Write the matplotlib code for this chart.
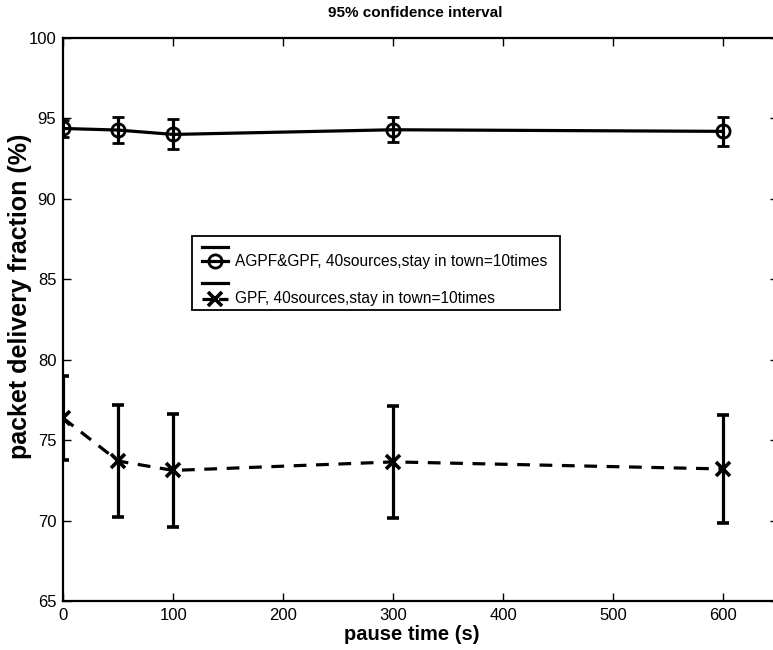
import matplotlib
matplotlib.use("Agg")
import matplotlib.pyplot as plt
from matplotlib.lines import Line2D
from matplotlib.patches import Rectangle

plt.rcParams['font.family'] = ['Liberation Sans', 'DejaVu Sans']

# pause times (s)
pause_time = [0, 50, 100, 300, 600]

# AGPF&GPF: mean delivery fraction and 95% CI half-width
agpf_mean = [94.35, 94.25, 93.98, 94.27, 94.17]
agpf_err = [0.55, 0.80, 0.93, 0.78, 0.90]

# GPF: mean delivery fraction and 95% CI half-width
gpf_mean = [76.35, 73.69, 73.11, 73.64, 73.20]
gpf_err = [2.60, 3.48, 3.49, 3.47, 3.38]

label_agpf = "AGPF&GPF, 40sources,stay in town=10times"
label_gpf = "GPF, 40sources,stay in town=10times"

W, H = 773, 650
fig = plt.figure(figsize=(W / 100, H / 100), dpi=100)
ax_top, ax_bot = 37.5, 601.0
ax = fig.add_axes([63.3 / W, (H - ax_bot) / H, 715 / W, (ax_bot - ax_top) / H])

lw = 2.3
ax.errorbar(pause_time, agpf_mean, yerr=agpf_err, color='black', lw=lw,
            marker='o', ms=9.5, mfc='none', mec='black', mew=2.0,
            capsize=4.5, capthick=lw, elinewidth=lw)
gl = ax.errorbar(pause_time, gpf_mean, yerr=gpf_err, color='black', lw=lw,
                 ls='--', marker='x', ms=10, mew=2.6,
                 capsize=4.5, capthick=lw, elinewidth=lw)
gl[0].set_dashes((4, 3))

ax.set_xlim(0, 650)
ax.set_ylim(65, 100)
ax.set_xticks([0, 100, 200, 300, 400, 500, 600])
ax.set_yticks([65, 70, 75, 80, 85, 90, 95, 100])
ax.tick_params(direction='in', length=6, width=1.0, labelsize=12,
               top=True, right=True)
ax.tick_params(axis='x', pad=5)
ax.tick_params(axis='y', pad=5)
for s in ax.spines.values():
    s.set_linewidth(1.6)


def fx(px):
    return px / W


def fy(py):
    return 1 - py / H


fig.text(fx(415), fy(13), "95% confidence interval", ha='center',
         va='center', fontsize=11, fontweight='bold')
fig.text(fx(412), fy(635), "pause time (s)", ha='center', va='center',
         fontsize=14.5, fontweight='bold')
fig.text(fx(20), fy(296), "packet delivery fraction (%)", ha='center',
         va='center', rotation=90, fontsize=18, fontweight='bold')

# legend box drawn in figure pixels
box = Rectangle((fx(192.3), fy(309.7)), fx(560) - fx(192.3),
                fy(236.3) - fy(309.7), transform=fig.transFigure,
                facecolor='white', edgecolor='black', lw=1.3, zorder=5)
fig.add_artist(box)

x0, x1, xm = 201.7, 227.7, 214.7
rows = [247.3, 261.3, 283.0, 298.7]
fig.add_artist(Line2D([fx(x0), fx(x1)], [fy(rows[0])] * 2, color='black',
                      lw=lw, transform=fig.transFigure, zorder=6))
fig.add_artist(Line2D([fx(x0), fx(x1)], [fy(rows[1])] * 2, color='black',
                      lw=lw, transform=fig.transFigure, zorder=6))
fig.add_artist(Line2D([fx(xm)], [fy(rows[1])], color='black', marker='o',
                      ms=9.5, mfc='none', mec='black', mew=2.0,
                      transform=fig.transFigure, zorder=7))
fig.add_artist(Line2D([fx(x0), fx(x1)], [fy(rows[2])] * 2, color='black',
                      lw=lw, transform=fig.transFigure, zorder=6))
ld = Line2D([fx(x0), fx(x1)], [fy(rows[3])] * 2, color='black', lw=lw,
            ls='--', transform=fig.transFigure, zorder=6)
ld.set_dashes((3, 2.2))
fig.add_artist(ld)
fig.add_artist(Line2D([fx(xm)], [fy(rows[3])], color='black', marker='x',
                      ms=10, mew=2.6, transform=fig.transFigure, zorder=7))
fig.text(fx(235), fy(rows[1]), label_agpf, fontsize=11.2, va='center',
         ha='left', zorder=8)
fig.text(fx(235), fy(rows[3]), label_gpf, fontsize=11.2, va='center',
         ha='left', zorder=8)

fig.savefig("out.png", dpi=100)
